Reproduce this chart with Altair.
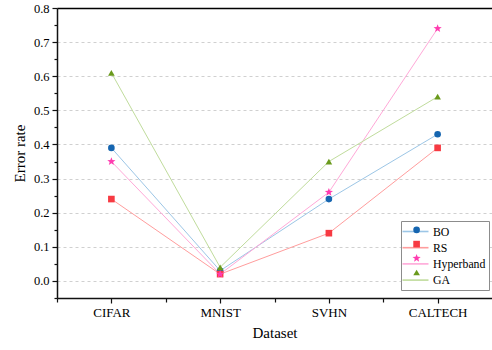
import math
import altair as alt
import pandas as pd

# ---- data -------------------------------------------------------------
datasets = ["CIFAR", "MNIST", "SVHN", "CALTECH"]
methods = ["BO", "RS", "Hyperband", "GA"]
bo = [0.39, 0.03, 0.24, 0.43]
rs = [0.24, 0.02, 0.14, 0.39]
hyperband = [0.35, 0.02, 0.26, 0.74]
ga = [0.61, 0.04, 0.35, 0.54]

# major ticks every 0.1, minor ticks half-way between them
y_tick_values = [-0.05, 0.0, 0.05, 0.1, 0.15, 0.2, 0.25, 0.3, 0.35, 0.4,
                 0.45, 0.5, 0.55, 0.6, 0.65, 0.7, 0.75, 0.8]
x_tick_values = [0.5, 1, 1.5, 2, 2.5, 3, 3.5, 4]

series = {"BO": bo, "RS": rs, "Hyperband": hyperband, "GA": ga}
rows = []
for m in methods:
    for i, (d, v) in enumerate(zip(datasets, series[m])):
        rows.append({"dataset": d, "idx": i + 1, "method": m, "value": v})
df = pd.DataFrame(rows)

# ---- styling ------------------------------------------------------------
FONT = "Liberation Serif"
line_colors = ["#9cc6e6", "#ff9d9d", "#ffa8d8", "#c0dc9c"]
marker_colors = ["#1565b0", "#f73a42", "#ff3cb0", "#6a9a1c"]
MARKER_SIZE = 44


def star_path(outer=1.3, inner=0.55):
    pts = []
    for k in range(10):
        r = outer if k % 2 == 0 else inner
        a = -math.pi / 2 + k * math.pi / 5
        pts.append(f"{r * math.cos(a):.3f},{r * math.sin(a):.3f}")
    return "M" + "L".join(pts) + "Z"


shapes = ["circle", "square", star_path(), "triangle-up"]

Y_MAJOR = "abs(datum.value * 10 - round(datum.value * 10)) < 0.001"
Y_TOP = "datum.value > 0.79"
X_MAJOR = "datum.value == round(datum.value)"

x_scale = alt.Scale(domain=[0.5, 4.5], nice=False, zero=False)
y_scale = alt.Scale(domain=[-0.05, 0.8], nice=False, zero=False)

x_axis = alt.Axis(
    orient="bottom", values=x_tick_values,
    labelExpr="{1:'CIFAR',2:'MNIST',3:'SVHN',4:'CALTECH'}[datum.value] || ''",
    title="Dataset", grid=False, labelPadding=3, titlePadding=6,
    labelFontSize=13, labelFont=FONT, titleFont=FONT, titleFontSize=15,
    labelColor="black", titleColor="black", titleFontWeight="normal",
    tickSize={"condition": {"test": X_MAJOR, "value": 5}, "value": 4},
)
y_axis = alt.Axis(
    orient="left", values=y_tick_values, title="Error rate",
    labelExpr=f"({Y_MAJOR}) ? format(datum.value, '.1f') : ''",
    labelPadding=3, titlePadding=6, labelFontSize=12.5,
    labelFont=FONT, titleFont=FONT, titleFontSize=15,
    labelColor="black", titleColor="black", titleFontWeight="normal",
    tickSize={"condition": {"test": Y_MAJOR, "value": 5}, "value": 3},
    gridColor={"condition": {"test": Y_TOP, "value": "#000000"},
               "value": "#d0d0d0"},
    gridDash={"condition": {"test": Y_TOP, "value": []}, "value": [3, 3]},
    gridWidth={"condition": {"test": Y_TOP, "value": 1.6}, "value": 1},
    gridOpacity={"condition": {"test": f"({Y_MAJOR}) && datum.value > -0.01",
                               "value": 1}, "value": 0},
)

# Line-sample legend (boxed) with the series names
line_legend = alt.Legend(
    orient="none", legendX=344, legendY=213, title=None, padding=3,
    labelFont=FONT, labelFontSize=11.8, labelColor="black", rowPadding=1.2,
    symbolType="M-2,0H2", symbolSize=169, symbolStrokeWidth=1.6,
    symbolOffset=4, labelOffset=10,
    strokeColor="#8c8c8c", fillColor="white",
)

# Marker legend drawn on top of the line samples (its labels are invisible)
point_legend = alt.Legend(
    orient="none", legendX=344, legendY=213, title=None, padding=3,
    labelFont=FONT, labelFontSize=11.8, labelColor="rgba(0,0,0,0)",
    labelOpacity=0, rowPadding=1.2,
    symbolSize=MARKER_SIZE, symbolOffset=6.7, labelOffset=10,
    symbolStrokeWidth=0,
)

lines = alt.Chart(df).mark_line(strokeWidth=1).encode(
    x=alt.X("idx:Q", scale=x_scale, axis=x_axis),
    y=alt.Y("value:Q", scale=y_scale, axis=y_axis),
    color=alt.Color(
        "method:N", sort=methods,
        scale=alt.Scale(domain=methods, range=line_colors),
        legend=line_legend,
    ),
    order="idx:Q",
)

points = alt.Chart(df).mark_point(filled=True, size=MARKER_SIZE, opacity=1).encode(
    x=alt.X("idx:Q", scale=x_scale, axis=x_axis),
    y=alt.Y("value:Q", scale=y_scale, axis=y_axis),
    color=alt.Color(
        "method:N", sort=methods,
        scale=alt.Scale(domain=methods, range=marker_colors),
        legend=point_legend,
    ),
    shape=alt.Shape(
        "method:N", sort=methods,
        scale=alt.Scale(domain=methods, range=shapes),
        legend=point_legend,
    ),
)

chart = (
    alt.layer(lines, points)
    .resolve_scale(color="independent", shape="independent")
    .resolve_legend(color="independent", shape="independent")
    .properties(
        width=435, height=290,
        autosize=alt.AutoSizeParams(type="none"),
        padding={"left": 57, "top": 8, "right": 0, "bottom": 52},
    )
    .configure(font=FONT)
    .configure_view(stroke=None)
    .configure_axis(
        domainColor="#111111", domainWidth=1.5, tickColor="#111111",
        tickWidth=1.2,
    )
)

chart.save("out.html", embed_options={"renderer": "svg", "actions": False})
